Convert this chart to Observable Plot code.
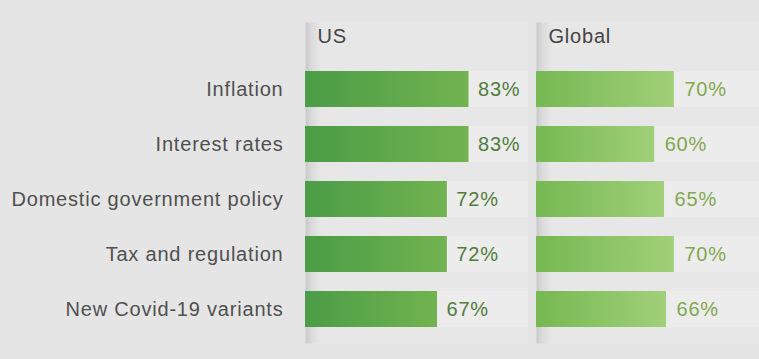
<!DOCTYPE html>
<html>
<head>
<meta charset="utf-8">
<script src="https://cdn.jsdelivr.net/npm/d3@7"></script>
<script src="https://cdn.jsdelivr.net/npm/@observablehq/plot@0.6"></script>
<style>
  html, body { margin: 0; padding: 0; background: #e5e5e5; overflow: hidden; }
  #chart svg { display: block; }
</style>
</head>
<body>
<div id="chart"></div>
<script>
const categories = ["Inflation", "Interest rates", "Domestic government policy", "Tax and regulation", "New Covid-19 variants"];
const regions = ["US", "Global"];
const usValues = [83, 83, 72, 72, 67];
const globalValues = [70, 60, 65, 70, 66];

const data = [
  ...categories.map((c, i) => ({region: "US", cat: c, value: usValues[i]})),
  ...categories.map((c, i) => ({region: "Global", cat: c, value: globalValues[i]}))
];
const XMAX = 113.2;
const FONT = "Liberation Sans, Arial, sans-serif";

const svg = Plot.plot({
  width: 759,
  height: 359,
  marginLeft: 305,
  marginRight: 0,
  marginTop: 22,
  marginBottom: 16,
  style: {background: "transparent", fontFamily: FONT, letterSpacing: "0.8px"},
  fx: {domain: regions, padding: 0.035, axis: null},
  x: {domain: [0, XMAX], axis: null},
  y: {domain: categories, paddingInner: 0.349, paddingOuter: 0.577, align: 0.752, axis: null},
  marks: [
    Plot.frame({fill: "url(#gPanel)", stroke: null}),
    Plot.barX(data, {fx: "region", y: "cat", x1: () => 0, x2: () => XMAX, fill: "#ececec"}),
    Plot.barX(data.filter(d => d.region === "US"), {fx: "region", y: "cat", x: "value", fill: "url(#gUS)"}),
    Plot.barX(data.filter(d => d.region === "Global"), {fx: "region", y: "cat", x: "value", fill: "url(#gGL)"}),
    Plot.text(data.filter(d => d.region === "US"), {fx: "region", y: "cat", x: "value", text: d => d.value + "%", textAnchor: "start", dx: 9, fontSize: 20, fill: "#517d3c"}),
    Plot.text(data.filter(d => d.region === "Global"), {fx: "region", y: "cat", x: "value", text: d => d.value + "%", textAnchor: "start", dx: 10, fontSize: 20, fill: "#82a850"}),
    Plot.text(regions, {fx: d => d, text: d => d, frameAnchor: "top-left", dx: 12, dy: 6, fontSize: 20, fill: "#444444"}),
    Plot.axisY({tickSize: 0, tickPadding: 22, fontSize: 20, fill: "#505050", label: null})
  ]
});

const defs = d3.select(svg).insert("defs", ":first-child");
function grad(id, stops) {
  const g = defs.append("linearGradient").attr("id", id).attr("x1", 0).attr("x2", 1).attr("y1", 0).attr("y2", 0);
  stops.forEach(([o, c]) => g.append("stop").attr("offset", o).attr("stop-color", c));
}
grad("gUS", [[0, "#4a9c46"], [1, "#72b350"]]);
grad("gGL", [[0, "#76b852"], [1, "#a1d079"]]);
grad("gPanel", [[0, "#c9c9c9"], [0.025, "#dadada"], [0.07, "#e7e7e7"], [1, "#e7e7e7"]]);

document.getElementById("chart").appendChild(svg);
</script>
</body>
</html>
